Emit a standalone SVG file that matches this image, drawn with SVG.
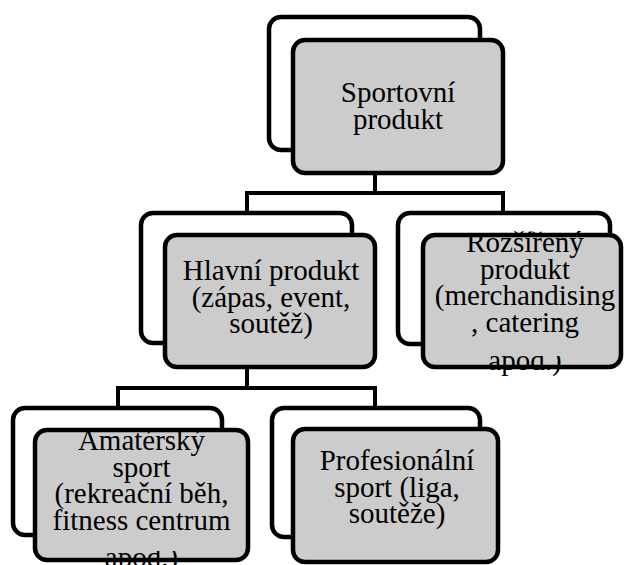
<svg xmlns="http://www.w3.org/2000/svg" width="624" height="565" viewBox="0 0 624 565">
<style>
.back{fill:#ffffff;stroke:#000;stroke-width:4.5}
.front{fill:#cccccc;stroke:#000;stroke-width:4.5}
.conn{fill:none;stroke:#000;stroke-width:4}
.t{font-family:'Liberation Serif','Times New Roman',serif;font-size:29px;text-anchor:middle;fill:#000}
</style>
<defs>
<clipPath id="clipR"><rect x="400" y="228" width="224" height="116"/></clipPath>
<clipPath id="clipR2"><rect x="400" y="356" width="224" height="40"/></clipPath>
<clipPath id="clipA"><rect x="0" y="431" width="270" height="108"/></clipPath>
<clipPath id="clipA2"><rect x="0" y="551" width="270" height="20"/></clipPath>
</defs>
<rect x="0" y="0" width="624" height="565" fill="#ffffff"/>
<g id="connectors">
<path class="conn" d="M375 173 V193 M245 193 H505 M247 193 V213 M503 193 V213"/>
<path class="conn" d="M247 367 V388 M116 388 H377 M118 388 V408 M375 388 V408"/>
</g>
<g id="node-sportovni">
<rect class="back" x="269" y="17" width="211" height="133" rx="12"/>
<rect class="front" x="293" y="40" width="210" height="133" rx="12"/>
<text class="t" x="398" y="102">Sportovní</text>
<text class="t" x="398" y="128.5">produkt</text>
</g>
<g id="node-hlavni">
<rect class="back" x="141" y="213" width="211" height="130" rx="12"/>
<rect class="front" x="165" y="235" width="210" height="132" rx="12"/>
<text class="t" x="271" y="280">Hlavní produkt</text>
<text class="t" x="271" y="306.5">(zápas, event,</text>
<text class="t" x="271" y="333">soutěž)</text>
</g>
<g id="node-rozsireny">
<rect class="back" x="398" y="213" width="212" height="131" rx="12"/>
<rect class="front" x="423" y="235" width="198" height="132" rx="12"/>
<g clip-path="url(#clipR)">
<text class="t" x="525" y="252">Rozšířený</text>
<text class="t" x="525" y="278.5">produkt</text>
<text class="t" x="525" y="305">(merchandising</text>
<text class="t" x="525" y="331.5">, catering</text>
</g>
<text class="t" x="525" y="370" clip-path="url(#clipR2)">apod.)</text>
</g>
<g id="node-amatersky">
<rect class="back" x="13" y="408" width="209" height="127" rx="12"/>
<rect class="front" x="35" y="430" width="213" height="130" rx="12"/>
<g clip-path="url(#clipA)">
<text class="t" x="141.5" y="450">Amatérský</text>
<text class="t" x="141.5" y="476.5">sport</text>
<text class="t" x="141.5" y="503">(rekreační běh,</text>
<text class="t" x="141.5" y="529.5">fitness centrum</text>
</g>
<text class="t" x="141.5" y="567" clip-path="url(#clipA2)">apod.)</text>
</g>
<g id="node-profesionalni">
<rect class="back" x="272" y="408" width="208" height="129" rx="12"/>
<rect class="front" x="293" y="429" width="205" height="133" rx="12"/>
<text class="t" x="397" y="470">Profesionální</text>
<text class="t" x="397" y="496.5">sport (liga,</text>
<text class="t" x="397" y="523">soutěže)</text>
</g>
</svg>
